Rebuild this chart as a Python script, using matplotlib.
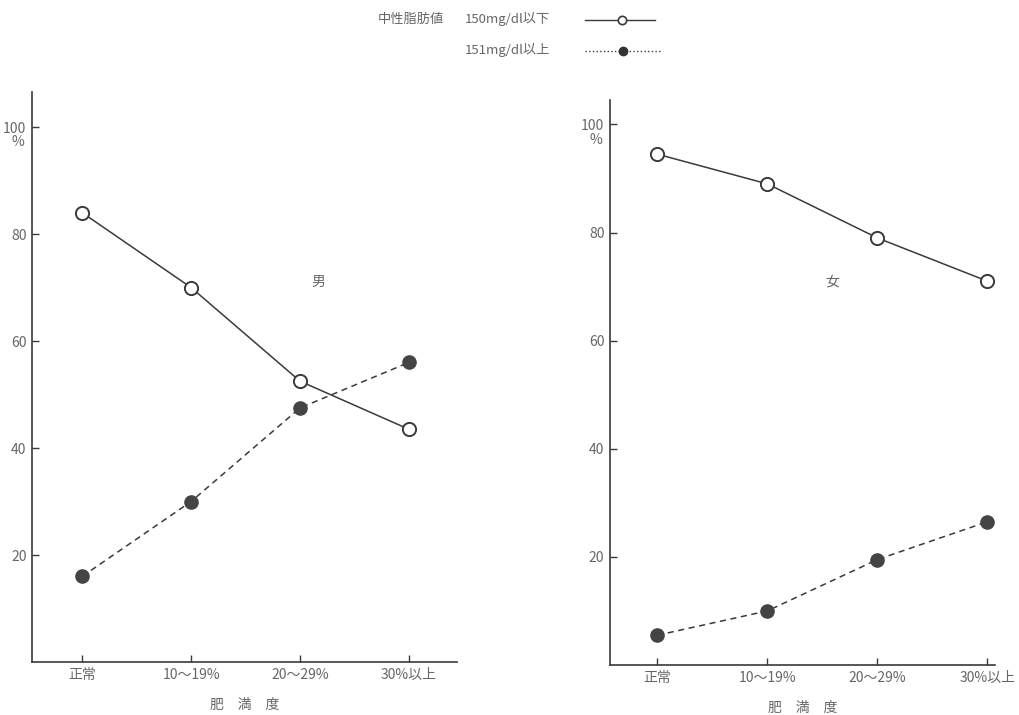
import matplotlib
matplotlib.use("Agg")
import matplotlib.pyplot as plt
from matplotlib.lines import Line2D

plt.rcParams['font.family'] = ['Noto Sans CJK JP', 'DejaVu Sans']

# データ
categories = ["正常", "10〜19%", "20〜29%", "30%以上"]
male_low = [84, 70, 52.5, 43.5]
male_high = [16, 30, 47.5, 56]
female_low = [94.5, 89, 79, 71]
female_high = [5.5, 10, 19.5, 26.5]
yticks = [20, 40, 60, 80, 100]

line_col = "#3a3a3a"
text_col = "#666666"

fig = plt.figure(figsize=(10.19, 7.15), dpi=100)
ax1 = fig.add_axes([0.0314, 0.074, 0.417, 0.797])
ax2 = fig.add_axes([0.5986, 0.070, 0.378, 0.790])


def draw(ax, low, high, sex, xlim, ylim, sex_pos):
    x = list(range(len(categories)))
    ax.plot(x, low, "-", color=line_col, lw=1.1, marker="o", ms=9.5,
            mfc="white", mec=line_col, mew=1.4, zorder=3)
    ax.plot(x, high, "--", color=line_col, lw=1.1, dashes=(4, 3), marker="o",
            ms=9.5, mfc="#444444", mec="#444444", zorder=3)
    ax.set_xlim(*xlim)
    ax.set_ylim(*ylim)
    ax.set_xticks(x)
    ax.set_xticklabels(categories, fontsize=10, color=text_col)
    ax.set_yticks(yticks)
    ax.set_yticklabels([str(v) for v in yticks], fontsize=10, color=text_col)
    ax.tick_params(direction="in", length=5, width=1, colors=line_col,
                   labelcolor=text_col, pad=4)
    for s in ["top", "right"]:
        ax.spines[s].set_visible(False)
    for s in ["left", "bottom"]:
        ax.spines[s].set_color(line_col)
        ax.spines[s].set_linewidth(1.2)
    # 100 の下に %
    ax.annotate("%", xy=(0, 100), xycoords=("axes fraction", "data"),
                xytext=(-10, -11), textcoords="offset points",
                ha="center", va="center", fontsize=10, color=text_col)
    ax.text(sex_pos[0], sex_pos[1], sex, ha="center", va="center",
            fontsize=10, color=text_col)
    ax.set_xlabel("肥　満　度", fontsize=10, color=text_col, labelpad=12)


draw(ax1, male_low, male_high, "男", (-0.46, 3.44), (0, 106.5), (2.17, 71))
draw(ax2, female_low, female_high, "女", (-0.43, 3.07), (0, 104.5), (1.59, 71))

# 凡例
fig.text(378 / 1019, 1 - 19 / 715, "中性脂肪値", fontsize=9.5, color=text_col,
         va="center")
fig.text(465 / 1019, 1 - 19 / 715, "150mg/dl以下", fontsize=9.5, color=text_col,
         va="center")
fig.text(465 / 1019, 1 - 50 / 715, "151mg/dl以上", fontsize=9.5, color=text_col,
         va="center")
fig.add_artist(Line2D([585 / 1019, 655 / 1019], [1 - 20 / 715, 1 - 20 / 715],
                      color=line_col, lw=1, transform=fig.transFigure))
fig.add_artist(Line2D([622 / 1019], [1 - 20 / 715], marker="o", ms=6,
                      mfc="white", mec=line_col, mew=1.2, lw=0,
                      transform=fig.transFigure))
fig.add_artist(Line2D([585 / 1019, 660 / 1019], [1 - 51 / 715, 1 - 51 / 715],
                      color=line_col, lw=1, ls=":", transform=fig.transFigure))
fig.add_artist(Line2D([623 / 1019], [1 - 51 / 715], marker="o", ms=6,
                      mfc="#333333", mec="#333333", lw=0,
                      transform=fig.transFigure))

fig.savefig("out.png", dpi=100)
